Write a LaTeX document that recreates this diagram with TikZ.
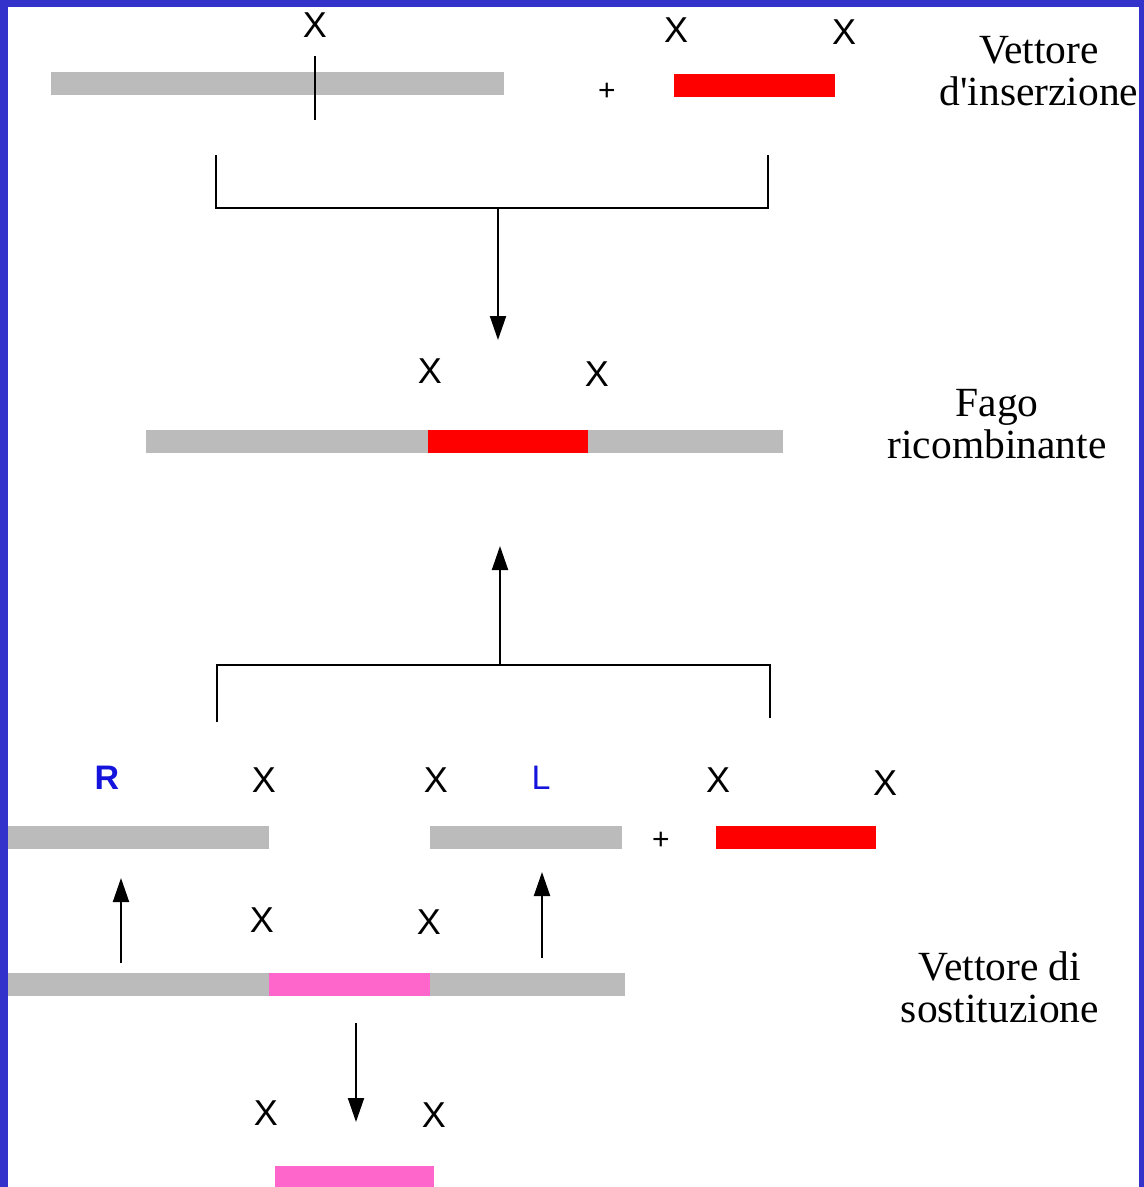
\documentclass[tikz,border=0pt]{standalone}
\usepackage{fontspec}
\setmainfont{Liberation Serif}
\newfontfamily\xsans{Liberation Sans}
\usetikzlibrary{arrows.meta}
\definecolor{frameblue}{RGB}{51,51,204}
\definecolor{bargray}{RGB}{187,187,187}
\definecolor{barred}{RGB}{255,0,0}
\definecolor{barpink}{RGB}{255,102,204}
\definecolor{labblue}{RGB}{20,20,220}
\begin{document}
\begin{tikzpicture}[x=1pt,y=-1pt,
 bar/.style={rectangle, inner sep=0pt, minimum height=23pt},
 xmark/.style={font=\xsans\fontsize{36}{36}\selectfont, inner sep=0pt},
 plus/.style={font=\xsans\fontsize{30}{30}\selectfont, inner sep=0pt},
 blab/.style={font=\xsans\fontsize{34}{34}\selectfont, inner sep=0pt, text=labblue},
 title/.style={font=\fontsize{41.5}{42}\selectfont, align=center, inner sep=0pt},
 wire/.style={line width=2pt},
 arr/.style={line width=2pt, -{Triangle[length=24pt,width=16pt]}},
]
\useasboundingbox (0,0) rectangle (1144,1187);
\fill[frameblue] (0,0) rectangle (1144,1187);
\fill[white] (8,7) rectangle (1139,1187);

% ---- row 1: insertion vector
\node[bar, fill=bargray, minimum width=453pt] (g1) at (277.5,83.5) {};
\coordinate (cutT) at (315,56);
\coordinate (cutB) at (315,120);
\draw[wire] (cutT) -- (cutB);
\node[xmark] (x1) at (315,25) {X};
\node[plus] (p1) at (607,92) {+};
\node[bar, fill=barred, minimum width=161pt] (r1) at (754.5,85.5) {};
\node[xmark] (x2) at (676,30) {X};
\node[xmark] (x3) at (844,32) {X};
\node[title] (t1) at (1039,71) {Vettore\\d\textquotesingle inserzione};

% ---- bracket 1 and arrow down
\coordinate (b1a) at (216,155);
\coordinate (b1b) at (216,208);
\coordinate (b1c) at (768,208);
\coordinate (b1d) at (768,155);
\coordinate (b1m) at (498,208);
\coordinate (a1tip) at (498,340);
\draw[wire] (b1a) -- (b1b) -- (b1c) -- (b1d);
\draw[arr] (b1m) -- (a1tip);

% ---- row 2: recombinant phage
\node[bar, fill=bargray, minimum width=637pt] (g2) at (464.5,441.5) {};
\node[bar, fill=barred, minimum width=160pt] (r2) at (508,441.5) {};
\node[xmark] (x4) at (430,371) {X};
\node[xmark] (x5) at (597,374) {X};
\node[title] (t2) at (997,424) {Fago\\ricombinante};

% ---- bracket 2 and arrow up
\coordinate (b2a) at (217,722);
\coordinate (b2b) at (217,665);
\coordinate (b2c) at (770,665);
\coordinate (b2d) at (770,718);
\coordinate (b2m) at (500,665);
\coordinate (a2tip) at (500,546);
\draw[wire] (b2a) -- (b2b) -- (b2c) -- (b2d);
\draw[arr] (b2m) -- (a2tip);

% ---- row 3: arms + insert
\node[blab, font=\xsans\bfseries\fontsize{34}{34}\selectfont] (R) at (107,778) {R};
\node[xmark] (x6) at (264,780) {X};
\node[xmark] (x7) at (436,780) {X};
\node[blab] (L) at (541,778) {L};
\node[xmark] (x8) at (718,780) {X};
\node[xmark] (x9) at (885,783) {X};
\node[bar, fill=bargray, minimum width=261pt] (g3a) at (138.5,837) {};
\node[bar, fill=bargray, minimum width=192pt] (g3b) at (526,837) {};
\node[plus] (p2) at (661,841) {+};
\node[bar, fill=barred, minimum width=160pt] (r3) at (796,837) {};

% ---- arrows up from replacement vector
\coordinate (u1s) at (121,963);
\coordinate (u1t) at (121,878);
\coordinate (u2s) at (542,958);
\coordinate (u2t) at (542,872);
\draw[arr] (u1s) -- (u1t);
\draw[arr] (u2s) -- (u2t);

% ---- row 4: replacement vector
\node[xmark] (x10) at (262,920) {X};
\node[xmark] (x11) at (429,922) {X};
\node[bar, fill=bargray, minimum width=617pt] (g4) at (316.5,984) {};
\node[bar, fill=barpink, minimum width=161pt] (k4) at (349.5,984) {};
\node[title] (t3) at (1000,987) {Vettore di\\sostituzione};

% ---- arrow down to stuffer
\coordinate (d1s) at (356,1023);
\coordinate (d1t) at (356,1122);
\draw[arr] (d1s) -- (d1t);
\node[xmark] (x12) at (266,1113) {X};
\node[xmark] (x13) at (434,1115) {X};
\node[bar, fill=barpink, minimum width=159pt] (k5) at (354.5,1177) {};
\end{tikzpicture}
\end{document}
